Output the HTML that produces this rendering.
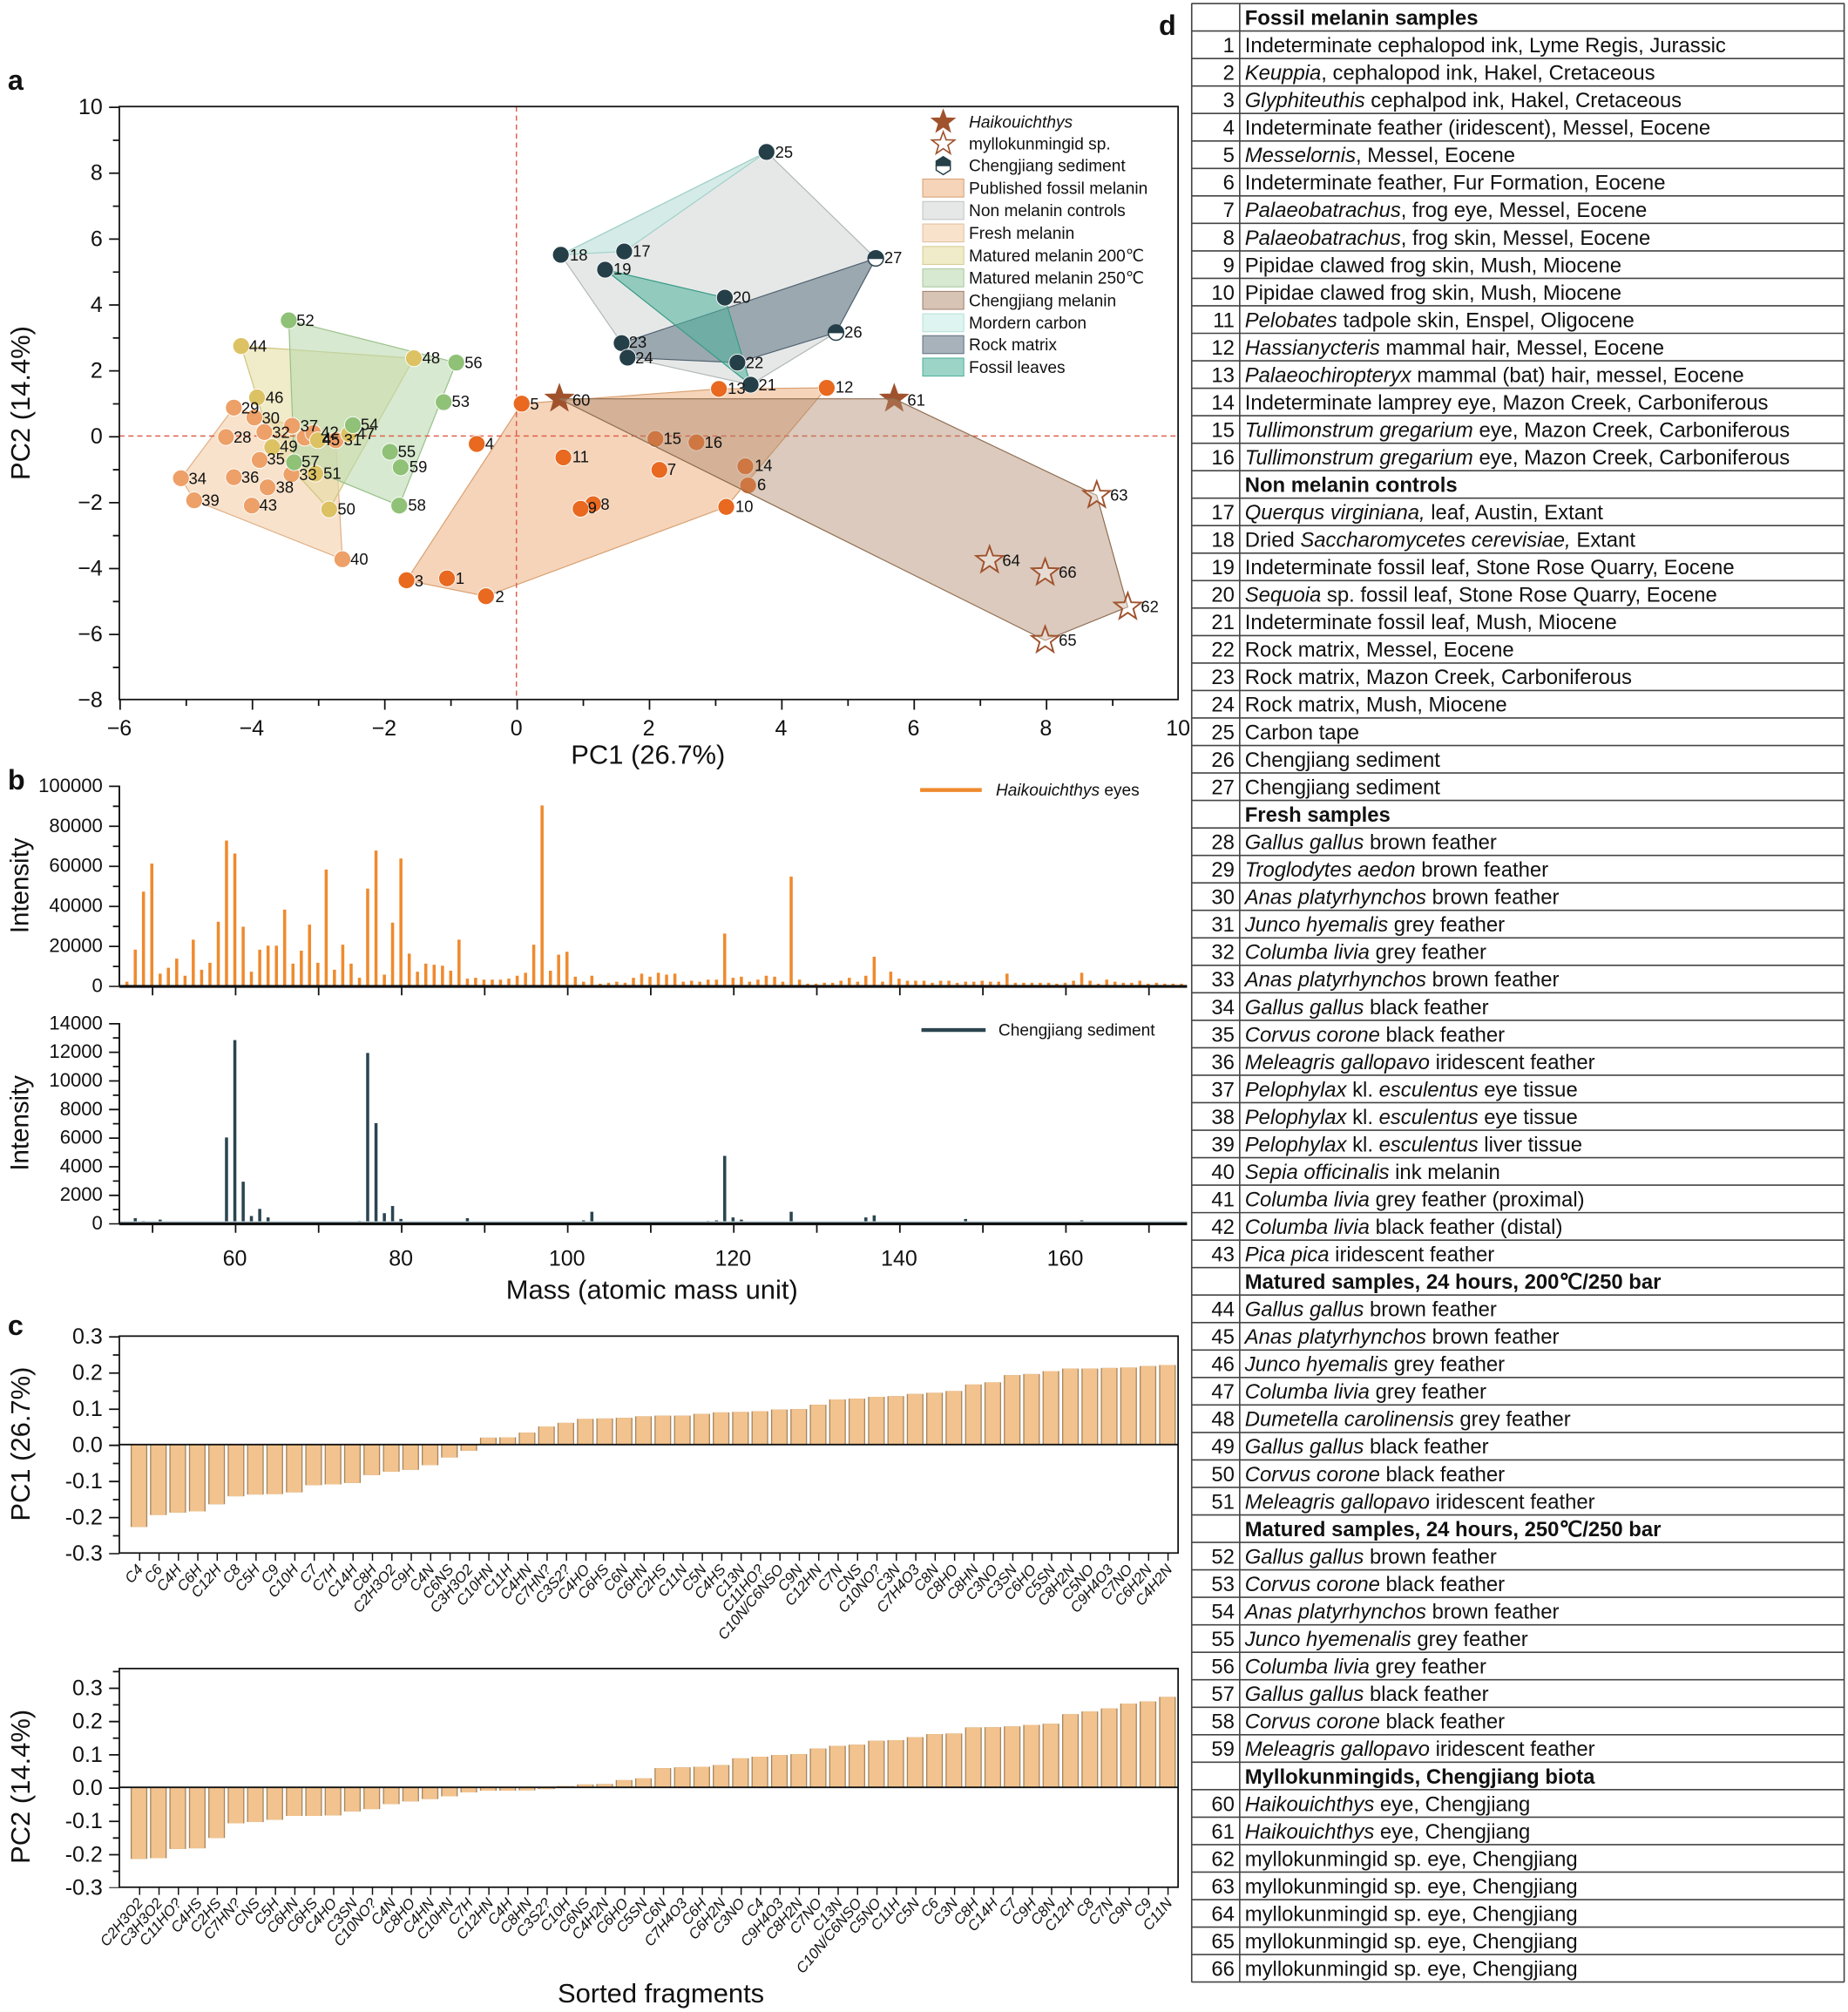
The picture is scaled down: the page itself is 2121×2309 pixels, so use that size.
<!DOCTYPE html>
<html><head><meta charset="utf-8"><style>
html,body{margin:0;padding:0;background:#fff}
svg{display:block}
text{font-family:"Liberation Sans",Arial,sans-serif;fill:#111}
.pl{font-size:12.5px}
.tk{font-size:17px}
.tb{font-size:15px}
.bl{font-size:11.5px;font-style:italic}
.lg{font-size:13px}
.tr{font-size:16.2px}
.ttl{font-size:21px}
</style></head><body>
<svg width="2121" height="2309" viewBox="0 0 1440 1567.6" xmlns="http://www.w3.org/2000/svg">
<defs>
<path id="star" d="M0,-11 L2.65,-3.64 10.46,-3.4 4.28,1.39 6.47,8.9 0,4.5 -6.47,8.9 -4.28,1.39 -10.46,-3.4 -2.65,-3.64Z"/>
<path id="bc1" fill="none" d="M108.3 1125.5v64.2M123.4 1125.5v54.9M138.5 1125.5v53M153.7 1125.5v52.1M168.8 1125.5v46.5M183.9 1125.5v40.3M199 1125.5v38.9M214.1 1125.5v38.6M229.3 1125.5v37.2M244.4 1125.5v31.6M259.5 1125.5v31M274.6 1125.5v29.9M289.7 1125.5v23.7M304.9 1125.5v21.1M320 1125.5v19.7M335.1 1125.5v16.1M350.2 1125.5v10.1M365.3 1125.5v4.8M380.5 1125.5v-5.4M395.6 1125.5v-5.6M410.7 1125.5v-9.3M425.8 1125.5v-14.1M440.9 1125.5v-16.9M456.1 1125.5v-20M471.2 1125.5v-20.3M486.3 1125.5v-20.8M501.4 1125.5v-22M516.5 1125.5v-22.5M531.7 1125.5v-22.5M546.8 1125.5v-23.9M561.9 1125.5v-25.1M577 1125.5v-25.4M592.1 1125.5v-25.9M607.3 1125.5v-27.3M622.4 1125.5v-27.6M637.5 1125.5v-31M652.6 1125.5v-35.2M667.7 1125.5v-35.8M682.9 1125.5v-37.2M698 1125.5v-37.7M713.1 1125.5v-39.4M728.2 1125.5v-40.3M743.3 1125.5v-41.7M758.5 1125.5v-46.8M773.6 1125.5v-48.5M788.7 1125.5v-54.1M803.8 1125.5v-54.9M818.9 1125.5v-57.2M834.1 1125.5v-59.2M849.2 1125.5v-59.2M864.3 1125.5v-59.7M879.4 1125.5v-60M894.5 1125.5v-61.1M909.7 1125.5v-62"/>
<path id="bc2" fill="none" d="M108.3 1392.6v55.7M123.4 1392.6v55.2M138.5 1392.6v48M153.7 1392.6v47.5M168.8 1392.6v39.4M183.9 1392.6v28M199 1392.6v27M214.1 1392.6v25.2M229.3 1392.6v22.3M244.4 1392.6v22.3M259.5 1392.6v21.8M274.6 1392.6v18.7M289.7 1392.6v16.9M304.9 1392.6v13M320 1392.6v10.9M335.1 1392.6v9.1M350.2 1392.6v7M365.3 1392.6v3.9M380.5 1392.6v2.6M395.6 1392.6v2.6M410.7 1392.6v2.3M425.8 1392.6v1.3M440.9 1392.6v-1M456.1 1392.6v-2.3M471.2 1392.6v-2.6M486.3 1392.6v-5.7M501.4 1392.6v-7M516.5 1392.6v-15M531.7 1392.6v-15.6M546.8 1392.6v-16.1M561.9 1392.6v-17.4M577 1392.6v-22.6M592.1 1392.6v-23.9M607.3 1392.6v-25.2M622.4 1392.6v-25.9M637.5 1392.6v-30.3M652.6 1392.6v-32.4M667.7 1392.6v-33.2M682.9 1392.6v-36.3M698 1392.6v-36.8M713.1 1392.6v-39.2M728.2 1392.6v-41.5M743.3 1392.6v-42M758.5 1392.6v-46.7M773.6 1392.6v-46.9M788.7 1392.6v-47.5M803.8 1392.6v-48.7M818.9 1392.6v-49.5M834.1 1392.6v-57M849.2 1392.6v-59.1M864.3 1392.6v-61.5M879.4 1392.6v-65.3M894.5 1392.6v-66.9M909.7 1392.6v-70.5"/>
</defs>
<rect width="1440" height="1567.6" fill="#fff"/>

<!-- ============ PANEL A ============ -->
<text x="6" y="70" font-size="22" font-weight="bold">a</text>
<g stroke-width="0.8">
<polygon points="316.8,452.1 406.5,314.5 560.2,303 644.2,302.2 565.9,394.9 378.7,464.5" fill="#eeb88c" fill-opacity="0.6" stroke="#d8a070"/>
<polygon points="437,198.5 597.3,118.4 682.4,201.3 651.4,259.1 584.9,299.7 489,278.6 484.4,267.3" fill="#d5d9d9" fill-opacity="0.6" stroke="#b0b6b6"/>
<polygon points="437,198.5 597.3,118.4 486.4,195.9" fill="#c8ece6" fill-opacity="0.6" stroke="#a0d0c8"/>
<polygon points="484.4,267.3 682.4,201.3 651.4,259.1 574.6,282.5 489,278.6" fill="#5f7382" fill-opacity="0.55" stroke="#4f6270"/>
<polygon points="471.5,210.1 564.8,231.9 584.9,299.7" fill="#4db09a" fill-opacity="0.55" stroke="#3a9a85"/>
<polygon points="182.2,317.6 227.6,331.7 261.6,343 266.8,435.7 151.3,389.8 141,372.6" fill="#f3cfa8" fill-opacity="0.6" stroke="#e0b088"/>
<polygon points="187.9,269.6 322.5,279.1 256.5,396.9 212.1,348.4 200.3,309.7" fill="#e6dea4" fill-opacity="0.6" stroke="#cfc47e"/>
<polygon points="225,249.6 355.5,282.5 311.1,393.9 229.2,360.2" fill="#bcdab0" fill-opacity="0.6" stroke="#98c088"/>
</g>
<line x1="402.4" y1="83" x2="402.4" y2="545" stroke="#e0604c" stroke-width="1" stroke-dasharray="4 3"/>
<line x1="93" y1="339.7" x2="918" y2="339.7" stroke="#e0604c" stroke-width="1" stroke-dasharray="4 3"/>

<g fill="#e8691f" stroke="#fff" stroke-width="0.6">
<circle cx="348.3" cy="450.6" r="6.5"/><circle cx="378.7" cy="464.5" r="6.5"/><circle cx="316.8" cy="452.1" r="6.5"/><circle cx="371.5" cy="345.9" r="6.5"/><circle cx="406.5" cy="314.5" r="6.5"/><circle cx="582.9" cy="378.2" r="6.5"/><circle cx="513.8" cy="366.1" r="6.5"/><circle cx="462.2" cy="392.8" r="6.5"/><circle cx="452.4" cy="396.4" r="6.5"/><circle cx="565.9" cy="394.9" r="6.5"/><circle cx="439" cy="356.4" r="6.5"/><circle cx="644.2" cy="302.2" r="6.5"/><circle cx="560.2" cy="303" r="6.5"/><circle cx="580.8" cy="363.3" r="6.5"/><circle cx="510.7" cy="342" r="6.5"/><circle cx="542.7" cy="344.6" r="6.5"/>
</g>
<g fill="#eda068" stroke="#fff" stroke-width="0.6">
<circle cx="176.1" cy="340.5" r="6.5"/><circle cx="182.2" cy="317.6" r="6.5"/><circle cx="198.2" cy="325.3" r="6.5"/><circle cx="261.6" cy="343" r="6.5"/><circle cx="206" cy="336.6" r="6.5"/><circle cx="227.1" cy="369.5" r="6.5"/><circle cx="141" cy="372.6" r="6.5"/><circle cx="202.3" cy="358.4" r="6.5"/><circle cx="182.2" cy="371.8" r="6.5"/><circle cx="227.6" cy="331.7" r="6.5"/><circle cx="208.5" cy="379.7" r="6.5"/><circle cx="151.3" cy="389.8" r="6.5"/><circle cx="266.8" cy="435.7" r="6.5"/><circle cx="237.4" cy="341" r="6.5"/><circle cx="244.1" cy="337.4" r="6.5"/><circle cx="196.2" cy="393.9" r="6.5"/>
</g>
<g fill="#dcc263" stroke="#fff" stroke-width="0.6">
<circle cx="187.9" cy="269.6" r="6.5"/><circle cx="247.7" cy="343" r="6.5"/><circle cx="200.3" cy="309.7" r="6.5"/><circle cx="271.9" cy="338.2" r="6.5"/><circle cx="322.5" cy="279.1" r="6.5"/><circle cx="212.1" cy="348.4" r="6.5"/><circle cx="256.5" cy="396.9" r="6.5"/><circle cx="245.7" cy="369" r="6.5"/>
</g>
<g fill="#8fc177" stroke="#fff" stroke-width="0.6">
<circle cx="225" cy="249.6" r="6.5"/><circle cx="345.7" cy="313.3" r="6.5"/><circle cx="275" cy="331.2" r="6.5"/><circle cx="303.9" cy="352" r="6.5"/><circle cx="355.5" cy="282.5" r="6.5"/><circle cx="229.2" cy="360.2" r="6.5"/><circle cx="311.1" cy="393.9" r="6.5"/><circle cx="312.2" cy="364.1" r="6.5"/>
</g>
<g fill="#253f48" stroke="#fff" stroke-width="0.6">
<circle cx="486.4" cy="195.9" r="6.5"/><circle cx="437" cy="198.5" r="6.5"/><circle cx="471.5" cy="210.1" r="6.5"/><circle cx="564.8" cy="231.9" r="6.5"/><circle cx="584.9" cy="299.7" r="6.5"/><circle cx="574.6" cy="282.5" r="6.5"/><circle cx="484.4" cy="267.3" r="6.5"/><circle cx="489" cy="278.6" r="6.5"/><circle cx="597.3" cy="118.4" r="6.5"/>
</g>
<g stroke="#253f48" stroke-width="1">
<path d="M645.4,259.1 a6,6 0 0 1 12,0Z" fill="#253f48"/><path d="M645.4,259.1 a6,6 0 0 0 12,0Z" fill="#fff"/>
<path d="M676.4,201.3 a6,6 0 0 1 12,0Z" fill="#253f48"/><path d="M676.4,201.3 a6,6 0 0 0 12,0Z" fill="#fff"/>
</g>
<use href="#star" x="435.9" y="310.7" fill="#a0522d" stroke="#a0522d"/>
<use href="#star" x="696.8" y="310.7" fill="#a0522d" stroke="#a0522d"/>
<polygon points="435.9,310.7 696.8,310.7 854.6,385.9 878.8,472.9 814.4,498.9" fill="#b08a6c" fill-opacity="0.45" stroke="#8f6c50" stroke-width="0.8"/>
<g fill="#fff" fill-opacity="0.35" stroke="#a0522d" stroke-width="1.3">
<use href="#star" x="878.8" y="472.9"/><use href="#star" x="854.6" y="385.9"/><use href="#star" x="771.1" y="436.5"/><use href="#star" x="814.4" y="498.9"/><use href="#star" x="814.4" y="446.2"/>
</g>
<g class="pl">
<text x="355" y="455">1</text><text x="386" y="469">2</text><text x="323" y="457">3</text><text x="378" y="350">4</text><text x="413" y="319">5</text><text x="590" y="382">6</text><text x="520" y="370">7</text><text x="468" y="397">8</text><text x="458" y="400">9</text><text x="573" y="399">10</text><text x="446" y="360">11</text><text x="651" y="306">12</text><text x="567" y="307">13</text><text x="588" y="367">14</text><text x="517" y="346">15</text><text x="549" y="349">16</text>
<text x="493" y="200">17</text><text x="444" y="203">18</text><text x="478" y="214">19</text><text x="571" y="236">20</text><text x="591" y="304">21</text><text x="581" y="287">22</text><text x="490" y="271">23</text><text x="495" y="283">24</text><text x="604" y="123">25</text><text x="658" y="263">26</text><text x="689" y="205">27</text>
<text x="182" y="345">28</text><text x="188" y="322">29</text><text x="204" y="330">30</text><text x="268" y="347">31</text><text x="212" y="341">32</text><text x="233" y="374">33</text><text x="147" y="377">34</text><text x="208" y="362">35</text><text x="188" y="376">36</text><text x="234" y="336">37</text><text x="215" y="384">38</text><text x="157" y="394">39</text><text x="273" y="440">40</text><text x="251" y="346">4</text><text x="250" y="341">42</text><text x="202" y="398">43</text>
<text x="194" y="274">44</text><text x="251" y="347">45</text><text x="207" y="314">46</text><text x="278" y="342">47</text><text x="329" y="283">48</text><text x="218" y="352">49</text><text x="263" y="401">50</text><text x="252" y="373">51</text>
<text x="231" y="254">52</text><text x="352" y="317">53</text><text x="281" y="335">54</text><text x="310" y="356">55</text><text x="362" y="287">56</text><text x="235" y="364">57</text><text x="318" y="398">58</text><text x="319" y="368">59</text>
<text x="446" y="316">60</text><text x="707" y="316">61</text><text x="889" y="477">62</text><text x="865" y="390">63</text><text x="781" y="441">64</text><text x="825" y="503">65</text><text x="825" y="450">66</text>
</g>
<rect x="93" y="83" width="825" height="462" fill="none" stroke="#111" stroke-width="1.2"/>
<line x1="93" y1="549" x2="918" y2="549" stroke="#111" stroke-width="8" stroke-dasharray="1.2 101.93"/>
<line x1="144.56" y1="547.5" x2="918" y2="547.5" stroke="#111" stroke-width="5" stroke-dasharray="1.2 101.93"/>
<line x1="89" y1="83" x2="89" y2="545" stroke="#111" stroke-width="8" stroke-dasharray="1.2 50.14"/>
<line x1="90.5" y1="108.67" x2="90.5" y2="545" stroke="#111" stroke-width="5" stroke-dasharray="1.2 50.14"/>
<g class="tk" text-anchor="middle">
<text x="93" y="573">−6</text><text x="196.1" y="573">−4</text><text x="299.3" y="573">−2</text><text x="402.4" y="573">0</text><text x="505.5" y="573">2</text><text x="608.6" y="573">4</text><text x="711.8" y="573">6</text><text x="814.9" y="573">8</text><text x="918" y="573">10</text>
</g>
<g class="tk" text-anchor="end">
<text x="80" y="89">10</text><text x="80" y="140.3">8</text><text x="80" y="191.7">6</text><text x="80" y="243">4</text><text x="80" y="294.3">2</text><text x="80" y="345.7">0</text><text x="80" y="397">−2</text><text x="80" y="448.3">−4</text><text x="80" y="499.7">−6</text><text x="80" y="551">−8</text>
</g>
<text class="ttl" x="505" y="595" text-anchor="middle">PC1 (26.7%)</text>
<text class="ttl" x="0" y="0" text-anchor="middle" transform="translate(23,314) rotate(-90)">PC2 (14.4%)</text>

<use href="#star" x="735" y="95" fill="#a0522d" stroke="#a0522d" transform="translate(735,95) scale(0.85) translate(-735,-95)"/>
<use href="#star" x="735" y="112" fill="none" stroke="#a0522d" stroke-width="1.3" transform="translate(735,112) scale(0.85) translate(-735,-112)"/>
<path d="M729.5,129 l0,-3.5 5.5,-3.5 5.5,3.5 0,3.5Z" fill="#253f48" stroke="#253f48"/>
<path d="M729.5,129 l0,3.5 5.5,3.5 5.5,-3.5 0,-3.5Z" fill="#fff" stroke="#253f48"/>
<g stroke-width="0.7">
<rect x="719" y="139.5" width="32" height="14" fill="#eeb88c" fill-opacity="0.6" stroke="#d8a070"/>
<rect x="719" y="157" width="32" height="14" fill="#d5d9d9" fill-opacity="0.6" stroke="#c0c4c4"/>
<rect x="719" y="174.5" width="32" height="14" fill="#f3cfa8" fill-opacity="0.6" stroke="#e0c0a0"/>
<rect x="719" y="192" width="32" height="14" fill="#e6dea4" fill-opacity="0.6" stroke="#d5cc96"/>
<rect x="719" y="209.5" width="32" height="14" fill="#bcdab0" fill-opacity="0.6" stroke="#a8c8a0"/>
<rect x="719" y="227" width="32" height="14" fill="#b08a6c" fill-opacity="0.5" stroke="#a08070"/>
<rect x="719" y="244.5" width="32" height="14" fill="#c8ece6" fill-opacity="0.6" stroke="#b8e0d8"/>
<rect x="719" y="261.5" width="32" height="14" fill="#5f7382" fill-opacity="0.55" stroke="#5f7382"/>
<rect x="719" y="279" width="32" height="14" fill="#4db09a" fill-opacity="0.55" stroke="#4db09a"/>
</g>
<g class="lg">
<text x="755" y="99.5" font-style="italic">Haikouichthys</text>
<text x="755" y="116.5">myllokunmingid sp.</text>
<text x="755" y="133.5">Chengjiang sediment</text>
<text x="755" y="151">Published fossil melanin</text>
<text x="755" y="168.5">Non melanin controls</text>
<text x="755" y="186">Fresh melanin</text>
<text x="755" y="203.5">Matured melanin 200℃</text>
<text x="755" y="221">Matured melanin 250℃</text>
<text x="755" y="238.5">Chengjiang melanin</text>
<text x="755" y="256">Mordern carbon</text>
<text x="755" y="273">Rock matrix</text>
<text x="755" y="290.5">Fossil leaves</text>
</g>

<!-- ============ PANEL B ============ -->
<text x="6" y="615" font-size="22" font-weight="bold">b</text>
<path stroke="#ef8a2e" stroke-width="2.4" fill="none" d="M98.9 768v-3.1M105.4 768v-28.1M111.8 768v-73.3M118.3 768v-95.2M124.8 768v-9.4M131.2 768v-14M137.7 768v-21.1M144.2 768v-7.8M150.6 768v-35.9M157.1 768v-12.5M163.6 768v-17.9M170.1 768v-49.9M176.5 768v-113.1M183 768v-103M189.5 768v-46M195.9 768v-10.9M202.4 768v-28.1M208.9 768v-31.2M215.4 768v-31.2M221.8 768v-59.3M228.3 768v-17.2M234.8 768v-27.3M241.2 768v-47.6M247.7 768v-17.9M254.2 768v-90.5M260.6 768v-12.5M267.1 768v-32M273.6 768v-17.2M280.1 768v-6.2M286.5 768v-75.7M293 768v-105.3M299.5 768v-8.6M305.9 768v-49.1M312.4 768v-99.1M318.9 768v-25M325.3 768v-10.9M331.8 768v-17.2M338.3 768v-16.4M344.8 768v-15.6M351.2 768v-11.7M357.7 768v-35.9M364.2 768v-5.5M370.6 768v-6.2M377.1 768v-4.7M383.6 768v-4.7M390 768v-4.7M396.5 768v-5.5M403 768v-7.8M409.5 768v-10.1M415.9 768v-32M422.4 768v-140.4M428.9 768v-11.7M435.3 768v-24.2M441.8 768v-26.5M448.3 768v-7M454.7 768v-3.1M461.2 768v-7.8M467.7 768v-1.6M474.2 768v-2.3M480.6 768v-3.1M487.1 768v-2.3M493.6 768v-6.2M500 768v-9.4M506.5 768v-7M513 768v-10.1M519.4 768v-8.6M525.9 768v-9.4M532.4 768v-3.1M538.9 768v-3.9M545.3 768v-3.1M551.8 768v-4.7M558.3 768v-4.7M564.7 768v-40.6M571.2 768v-6.2M577.7 768v-7M584.1 768v-3.1M590.6 768v-4.7M597.1 768v-7.8M603.6 768v-7M610 768v-3.1M616.5 768v-85M623 768v-4.7M629.4 768v-1.6M635.9 768v-1.6M642.4 768v-2.3M648.8 768v-2.3M655.3 768v-3.9M661.8 768v-6.2M668.3 768v-3.1M674.7 768v-7.8M681.2 768v-22.6M687.7 768v-3.1M694.1 768v-10.9M700.6 768v-5.5M707.1 768v-3.9M713.5 768v-3.9M720 768v-3.9M726.5 768v-2.3M733 768v-3.9M739.4 768v-3.9M745.9 768v-2.3M752.4 768v-3.1M758.8 768v-3.1M765.3 768v-3.9M771.8 768v-3.1M778.2 768v-3.1M784.7 768v-9.4M791.2 768v-2.3M797.7 768v-2.3M804.1 768v-2.3M810.6 768v-2.3M817.1 768v-2.3M823.5 768v-1.6M830 768v-2.3M836.5 768v-3.9M842.9 768v-10.1M849.4 768v-3.9M855.9 768v-1.6M862.4 768v-4.7M868.8 768v-3.1M875.3 768v-2.3M881.8 768v-2.3M888.2 768v-3.9M894.7 768v-1.6M901.2 768v-2.3M907.6 768v-1.6M914.1 768v-1.6M920.6 768v-1.6"/>
<path stroke="#2b4550" stroke-width="2.4" fill="none" d="M105.4 953v-3.9M111.8 953v-1.7M124.8 953v-2.8M137.7 953v-1.1M176.5 953v-66.8M183 953v-142.6M189.5 953v-32.3M195.9 953v-5.6M202.4 953v-11.1M208.9 953v-4.5M260.6 953v-1.1M280.1 953v-1.7M286.5 953v-132.6M293 953v-78M299.5 953v-7.8M305.9 953v-13.4M312.4 953v-3.3M364.2 953v-3.9M415.9 953v-1.1M441.8 953v-1.1M454.7 953v-2.2M461.2 953v-8.9M467.7 953v-1.1M545.3 953v-1.1M551.8 953v-1.7M558.3 953v-2.2M564.7 953v-52.4M571.2 953v-4.5M577.7 953v-2.8M616.5 953v-8.9M674.7 953v-4.5M681.2 953v-6.1M687.7 953v-1.1M752.4 953v-3.3M836.5 953v-1.1M842.9 953v-2.2M849.4 953v-1.1"/>
<line x1="93" y1="952" x2="925" y2="952" stroke="#b0c4cc" stroke-width="1"/>
<g stroke="#111">
<line x1="93" y1="612" x2="93" y2="768.8" stroke-width="1.3"/>
<line x1="93" y1="768.5" x2="925" y2="768.5" stroke-width="2.2"/>
<line x1="93" y1="797" x2="93" y2="953.8" stroke-width="1.3"/>
<line x1="93" y1="953.5" x2="925" y2="953.5" stroke-width="2.2"/>
<line x1="118.3" y1="772" x2="925" y2="772" stroke-width="7" stroke-dasharray="1.2 63.5"/>
<line x1="118.3" y1="957" x2="925" y2="957" stroke-width="7" stroke-dasharray="1.2 63.5"/>
<line x1="89" y1="612" x2="89" y2="769" stroke-width="8" stroke-dasharray="1.2 30" />
<line x1="90.5" y1="627.6" x2="90.5" y2="769" stroke-width="5" stroke-dasharray="1.2 30"/>
<line x1="89" y1="797" x2="89" y2="954" stroke-width="8" stroke-dasharray="1.2 21.09"/>
<line x1="90.5" y1="808.1" x2="90.5" y2="954" stroke-width="5" stroke-dasharray="1.2 21.09"/>
</g>
<g class="tb" text-anchor="end">
<text x="80" y="617">100000</text><text x="80" y="648.2">80000</text><text x="80" y="679.4">60000</text><text x="80" y="710.6">40000</text><text x="80" y="741.8">20000</text><text x="80" y="773">0</text>
<text x="80" y="802">14000</text><text x="80" y="824.3">12000</text><text x="80" y="846.6">10000</text><text x="80" y="868.9">8000</text><text x="80" y="891.1">6000</text><text x="80" y="913.4">4000</text><text x="80" y="935.7">2000</text><text x="80" y="958">0</text>
</g>
<g class="tk" text-anchor="middle">
<text x="183" y="986">60</text><text x="312.4" y="986">80</text><text x="441.8" y="986">100</text><text x="571.2" y="986">120</text><text x="700.6" y="986">140</text><text x="830" y="986">160</text>
</g>
<text class="ttl" x="508" y="1012" text-anchor="middle">Mass (atomic mass unit)</text>
<text x="0" y="0" font-size="20" text-anchor="middle" transform="translate(22,690) rotate(-90)">Intensity</text>
<text x="0" y="0" font-size="20" text-anchor="middle" transform="translate(22,875) rotate(-90)">Intensity</text>
<line x1="717" y1="615.5" x2="765" y2="615.5" stroke="#ef8a2e" stroke-width="3"/>
<text class="lg" x="776" y="620"><tspan font-style="italic">Haikouichthys</tspan> eyes</text>
<line x1="718" y1="802.5" x2="768" y2="802.5" stroke="#2b4550" stroke-width="3"/>
<text class="lg" x="778" y="807">Chengjiang sediment</text>

<!-- ============ PANEL C ============ -->
<text x="6" y="1040" font-size="22" font-weight="bold">c</text>
<use href="#bc1" stroke="#a8865e" stroke-width="13"/>
<use href="#bc1" stroke="#f2c38e" stroke-width="11.2"/>
<use href="#bc2" stroke="#a8865e" stroke-width="13"/>
<use href="#bc2" stroke="#f2c38e" stroke-width="11.2"/>
<g stroke="#111">
<rect x="93" y="1041" width="825" height="169" fill="none" stroke-width="1.2"/>
<line x1="93" y1="1125.5" x2="918" y2="1125.5" stroke-width="1.3"/>
<rect x="93" y="1300" width="825" height="170.4" fill="none" stroke-width="1.2"/>
<line x1="93" y1="1392.6" x2="918" y2="1392.6" stroke-width="1.3"/>
<line x1="108.3" y1="1213" x2="918" y2="1213" stroke-width="6" stroke-dasharray="1 14.12"/>
<line x1="108.3" y1="1473.4" x2="918" y2="1473.4" stroke-width="6" stroke-dasharray="1 14.12"/>
<line x1="89" y1="1041" x2="89" y2="1211" stroke-width="8" stroke-dasharray="1.2 26.97"/>
<line x1="90.5" y1="1055.1" x2="90.5" y2="1211" stroke-width="5" stroke-dasharray="1.2 26.97"/>
<line x1="89" y1="1314.8" x2="89" y2="1471" stroke-width="8" stroke-dasharray="1.2 24.73"/>
<line x1="90.5" y1="1301.8" x2="90.5" y2="1471" stroke-width="5" stroke-dasharray="1.2 24.73"/>
</g>
<g class="tk" text-anchor="end">
<text x="80" y="1047">0.3</text><text x="80" y="1075.2">0.2</text><text x="80" y="1103.3">0.1</text><text x="80" y="1131.5">0.0</text><text x="80" y="1159.7">-0.1</text><text x="80" y="1187.8">-0.2</text><text x="80" y="1216">-0.3</text>
<text x="80" y="1320.8">0.3</text><text x="80" y="1346.7">0.2</text><text x="80" y="1372.7">0.1</text><text x="80" y="1398.6">0.0</text><text x="80" y="1424.5">-0.1</text><text x="80" y="1450.5">-0.2</text><text x="80" y="1476.4">-0.3</text>
</g>
<text class="ttl" x="0" y="0" text-anchor="middle" transform="translate(23,1125) rotate(-90)">PC1 (26.7%)</text>
<text class="ttl" x="0" y="0" text-anchor="middle" transform="translate(23,1392) rotate(-90)">PC2 (14.4%)</text>
<text class="ttl" x="515" y="1560" text-anchor="middle">Sorted fragments</text>
<g class="bl" text-anchor="end">
<text transform="translate(112,1223) rotate(-50)">C4</text>
<text transform="translate(127,1223) rotate(-50)">C6</text>
<text transform="translate(142,1223) rotate(-50)">C4H</text>
<text transform="translate(158,1223) rotate(-50)">C6H</text>
<text transform="translate(173,1223) rotate(-50)">C12H</text>
<text transform="translate(188,1223) rotate(-50)">C8</text>
<text transform="translate(203,1223) rotate(-50)">C5H</text>
<text transform="translate(218,1223) rotate(-50)">C9</text>
<text transform="translate(233,1223) rotate(-50)">C10H</text>
<text transform="translate(248,1223) rotate(-50)">C7</text>
<text transform="translate(263,1223) rotate(-50)">C7H</text>
<text transform="translate(279,1223) rotate(-50)">C14H</text>
<text transform="translate(294,1223) rotate(-50)">C8H</text>
<text transform="translate(309,1223) rotate(-50)">C2H3O2</text>
<text transform="translate(324,1223) rotate(-50)">C9H</text>
<text transform="translate(339,1223) rotate(-50)">C4N</text>
<text transform="translate(354,1223) rotate(-50)">C6NS</text>
<text transform="translate(369,1223) rotate(-50)">C3H3O2</text>
<text transform="translate(385,1223) rotate(-50)">C10HN</text>
<text transform="translate(400,1223) rotate(-50)">C11H</text>
<text transform="translate(415,1223) rotate(-50)">C4HN</text>
<text transform="translate(430,1223) rotate(-50)">C7HN?</text>
<text transform="translate(445,1223) rotate(-50)">C3S2?</text>
<text transform="translate(460,1223) rotate(-50)">C4HO</text>
<text transform="translate(475,1223) rotate(-50)">C6HS</text>
<text transform="translate(490,1223) rotate(-50)">C6N</text>
<text transform="translate(505,1223) rotate(-50)">C6HN</text>
<text transform="translate(520,1223) rotate(-50)">C2HS</text>
<text transform="translate(536,1223) rotate(-50)">C11N</text>
<text transform="translate(551,1223) rotate(-50)">C5N</text>
<text transform="translate(566,1223) rotate(-50)">C4HS</text>
<text transform="translate(581,1223) rotate(-50)">C13N</text>
<text transform="translate(596,1223) rotate(-50)">C11HO?</text>
<text transform="translate(611,1223) rotate(-50)">C10N/C6NSO</text>
<text transform="translate(626,1223) rotate(-50)">C9N</text>
<text transform="translate(641,1223) rotate(-50)">C12HN</text>
<text transform="translate(657,1223) rotate(-50)">C7N</text>
<text transform="translate(672,1223) rotate(-50)">CNS</text>
<text transform="translate(687,1223) rotate(-50)">C10NO?</text>
<text transform="translate(702,1223) rotate(-50)">C3N</text>
<text transform="translate(717,1223) rotate(-50)">C7H4O3</text>
<text transform="translate(732,1223) rotate(-50)">C8N</text>
<text transform="translate(747,1223) rotate(-50)">C8HO</text>
<text transform="translate(763,1223) rotate(-50)">C8HN</text>
<text transform="translate(778,1223) rotate(-50)">C3NO</text>
<text transform="translate(793,1223) rotate(-50)">C3SN</text>
<text transform="translate(808,1223) rotate(-50)">C6HO</text>
<text transform="translate(823,1223) rotate(-50)">C5SN</text>
<text transform="translate(838,1223) rotate(-50)">C8H2N</text>
<text transform="translate(853,1223) rotate(-50)">C5NO</text>
<text transform="translate(868,1223) rotate(-50)">C9H4O3</text>
<text transform="translate(883,1223) rotate(-50)">C7NO</text>
<text transform="translate(898,1223) rotate(-50)">C6H2N</text>
<text transform="translate(914,1223) rotate(-50)">C4H2N</text>
</g>
<g class="bl" text-anchor="end">
<text transform="translate(112,1483) rotate(-50)">C2H3O2</text>
<text transform="translate(127,1483) rotate(-50)">C3H3O2</text>
<text transform="translate(142,1483) rotate(-50)">C11HO?</text>
<text transform="translate(158,1483) rotate(-50)">C4HS</text>
<text transform="translate(173,1483) rotate(-50)">C2HS</text>
<text transform="translate(188,1483) rotate(-50)">C7HN?</text>
<text transform="translate(203,1483) rotate(-50)">CNS</text>
<text transform="translate(218,1483) rotate(-50)">C5H</text>
<text transform="translate(233,1483) rotate(-50)">C6HN</text>
<text transform="translate(248,1483) rotate(-50)">C6HS</text>
<text transform="translate(263,1483) rotate(-50)">C4HO</text>
<text transform="translate(279,1483) rotate(-50)">C3SN</text>
<text transform="translate(294,1483) rotate(-50)">C10NO?</text>
<text transform="translate(309,1483) rotate(-50)">C4N</text>
<text transform="translate(324,1483) rotate(-50)">C8HO</text>
<text transform="translate(339,1483) rotate(-50)">C4HN</text>
<text transform="translate(354,1483) rotate(-50)">C10HN</text>
<text transform="translate(369,1483) rotate(-50)">C7H</text>
<text transform="translate(385,1483) rotate(-50)">C12HN</text>
<text transform="translate(400,1483) rotate(-50)">C4H</text>
<text transform="translate(415,1483) rotate(-50)">C8HN</text>
<text transform="translate(430,1483) rotate(-50)">C3S2?</text>
<text transform="translate(445,1483) rotate(-50)">C10H</text>
<text transform="translate(460,1483) rotate(-50)">C6NS</text>
<text transform="translate(475,1483) rotate(-50)">C4H2N</text>
<text transform="translate(490,1483) rotate(-50)">C6HO</text>
<text transform="translate(505,1483) rotate(-50)">C5SN</text>
<text transform="translate(520,1483) rotate(-50)">C6N</text>
<text transform="translate(536,1483) rotate(-50)">C7H4O3</text>
<text transform="translate(551,1483) rotate(-50)">C6H</text>
<text transform="translate(566,1483) rotate(-50)">C6H2N</text>
<text transform="translate(581,1483) rotate(-50)">C3NO</text>
<text transform="translate(596,1483) rotate(-50)">C4</text>
<text transform="translate(611,1483) rotate(-50)">C9H4O3</text>
<text transform="translate(626,1483) rotate(-50)">C8H2N</text>
<text transform="translate(641,1483) rotate(-50)">C7NO</text>
<text transform="translate(657,1483) rotate(-50)">C13N</text>
<text transform="translate(672,1483) rotate(-50)">C10N/C6NSO</text>
<text transform="translate(687,1483) rotate(-50)">C5NO</text>
<text transform="translate(702,1483) rotate(-50)">C11H</text>
<text transform="translate(717,1483) rotate(-50)">C5N</text>
<text transform="translate(732,1483) rotate(-50)">C6</text>
<text transform="translate(747,1483) rotate(-50)">C3N</text>
<text transform="translate(763,1483) rotate(-50)">C8H</text>
<text transform="translate(778,1483) rotate(-50)">C14H</text>
<text transform="translate(793,1483) rotate(-50)">C7</text>
<text transform="translate(808,1483) rotate(-50)">C9H</text>
<text transform="translate(823,1483) rotate(-50)">C8N</text>
<text transform="translate(838,1483) rotate(-50)">C12H</text>
<text transform="translate(853,1483) rotate(-50)">C8</text>
<text transform="translate(868,1483) rotate(-50)">C7N</text>
<text transform="translate(883,1483) rotate(-50)">C9N</text>
<text transform="translate(898,1483) rotate(-50)">C9</text>
<text transform="translate(914,1483) rotate(-50)">C11N</text>
</g>

<!-- ============ PANEL D (table) ============ -->
<text x="903" y="27" font-size="22" font-weight="bold">d</text>
<line x1="1182.8" y1="2.2" x2="1182.8" y2="1545" stroke="#444" stroke-width="508.8" stroke-dasharray="1.1 20.31"/>
<g stroke="#444" stroke-width="1.1">
<line x1="928.6" y1="2.7" x2="928.6" y2="1544.3"/>
<line x1="966" y1="2.7" x2="966" y2="1544.3"/>
<line x1="1437" y1="2.7" x2="1437" y2="1544.3"/>
</g>
<g class="tr">
<g font-weight="bold">
<text x="970" y="19.3">Fossil melanin samples</text>
<text x="970" y="383.3">Non melanin controls</text>
<text x="970" y="640.2">Fresh samples</text>
<text x="970" y="1004.2">Matured samples, 24 hours, 200℃/250 bar</text>
<text x="970" y="1196.9">Matured samples, 24 hours, 250℃/250 bar</text>
<text x="970" y="1389.6">Myllokunmingids, Chengjiang biota</text>
</g>
<g text-anchor="end">
<text x="962" y="40.7">1</text><text x="962" y="62.1">2</text><text x="962" y="83.5">3</text><text x="962" y="104.9">4</text><text x="962" y="126.3">5</text><text x="962" y="147.8">6</text><text x="962" y="169.2">7</text><text x="962" y="190.6">8</text><text x="962" y="212">9</text><text x="962" y="233.4">10</text><text x="962" y="254.8">11</text><text x="962" y="276.2">12</text><text x="962" y="297.6">13</text><text x="962" y="319">14</text><text x="962" y="340.4">15</text><text x="962" y="361.9">16</text>
<text x="962" y="404.7">17</text><text x="962" y="426.1">18</text><text x="962" y="447.5">19</text><text x="962" y="468.9">20</text><text x="962" y="490.3">21</text><text x="962" y="511.7">22</text><text x="962" y="533.1">23</text><text x="962" y="554.5">24</text><text x="962" y="576">25</text><text x="962" y="597.4">26</text><text x="962" y="618.8">27</text>
<text x="962" y="661.6">28</text><text x="962" y="683">29</text><text x="962" y="704.4">30</text><text x="962" y="725.8">31</text><text x="962" y="747.2">32</text><text x="962" y="768.6">33</text><text x="962" y="790.1">34</text><text x="962" y="811.5">35</text><text x="962" y="832.9">36</text><text x="962" y="854.3">37</text><text x="962" y="875.7">38</text><text x="962" y="897.1">39</text><text x="962" y="918.5">40</text><text x="962" y="939.9">41</text><text x="962" y="961.3">42</text><text x="962" y="982.8">43</text>
<text x="962" y="1025.6">44</text><text x="962" y="1047">45</text><text x="962" y="1068.4">46</text><text x="962" y="1089.8">47</text><text x="962" y="1111.2">48</text><text x="962" y="1132.6">49</text><text x="962" y="1154">50</text><text x="962" y="1175.4">51</text>
<text x="962" y="1218.3">52</text><text x="962" y="1239.7">53</text><text x="962" y="1261.1">54</text><text x="962" y="1282.5">55</text><text x="962" y="1303.9">56</text><text x="962" y="1325.3">57</text><text x="962" y="1346.7">58</text><text x="962" y="1368.1">59</text>
<text x="962" y="1411">60</text><text x="962" y="1432.4">61</text><text x="962" y="1453.8">62</text><text x="962" y="1475.2">63</text><text x="962" y="1496.6">64</text><text x="962" y="1518">65</text><text x="962" y="1539.4">66</text>
</g>
<text x="970" y="40.7">Indeterminate cephalopod ink, Lyme Regis, Jurassic</text>
<text x="970" y="62.1"><tspan font-style="italic">Keuppia</tspan>, cephalopod ink, Hakel, Cretaceous</text>
<text x="970" y="83.5"><tspan font-style="italic">Glyphiteuthis</tspan> cephalpod ink, Hakel, Cretaceous</text>
<text x="970" y="104.9">Indeterminate feather (iridescent), Messel, Eocene</text>
<text x="970" y="126.3"><tspan font-style="italic">Messelornis</tspan>, Messel, Eocene</text>
<text x="970" y="147.8">Indeterminate feather, Fur Formation, Eocene</text>
<text x="970" y="169.2"><tspan font-style="italic">Palaeobatrachus</tspan>, frog eye, Messel, Eocene</text>
<text x="970" y="190.6"><tspan font-style="italic">Palaeobatrachus</tspan>, frog skin, Messel, Eocene</text>
<text x="970" y="212">Pipidae clawed frog skin, Mush, Miocene</text>
<text x="970" y="233.4">Pipidae clawed frog skin, Mush, Miocene</text>
<text x="970" y="254.8"><tspan font-style="italic">Pelobates</tspan> tadpole skin, Enspel, Oligocene</text>
<text x="970" y="276.2"><tspan font-style="italic">Hassianycteris</tspan> mammal hair, Messel, Eocene</text>
<text x="970" y="297.6"><tspan font-style="italic">Palaeochiropteryx</tspan> mammal (bat) hair, messel, Eocene</text>
<text x="970" y="319">Indeterminate lamprey eye, Mazon Creek, Carboniferous</text>
<text x="970" y="340.4"><tspan font-style="italic">Tullimonstrum gregarium</tspan> eye, Mazon Creek, Carboniferous</text>
<text x="970" y="361.9"><tspan font-style="italic">Tullimonstrum gregarium</tspan> eye, Mazon Creek, Carboniferous</text>
<text x="970" y="404.7"><tspan font-style="italic">Querqus virginiana,</tspan> leaf, Austin, Extant</text>
<text x="970" y="426.1">Dried <tspan font-style="italic">Saccharomycetes cerevisiae,</tspan> Extant</text>
<text x="970" y="447.5">Indeterminate fossil leaf, Stone Rose Quarry, Eocene</text>
<text x="970" y="468.9"><tspan font-style="italic">Sequoia</tspan> sp. fossil leaf, Stone Rose Quarry, Eocene</text>
<text x="970" y="490.3">Indeterminate fossil leaf, Mush, Miocene</text>
<text x="970" y="511.7">Rock matrix, Messel, Eocene</text>
<text x="970" y="533.1">Rock matrix, Mazon Creek, Carboniferous</text>
<text x="970" y="554.5">Rock matrix, Mush, Miocene</text>
<text x="970" y="576">Carbon tape</text>
<text x="970" y="597.4">Chengjiang sediment</text>
<text x="970" y="618.8">Chengjiang sediment</text>
<text x="970" y="661.6"><tspan font-style="italic">Gallus gallus</tspan> brown feather</text>
<text x="970" y="683"><tspan font-style="italic">Troglodytes aedon</tspan> brown feather</text>
<text x="970" y="704.4"><tspan font-style="italic">Anas platyrhynchos</tspan> brown feather</text>
<text x="970" y="725.8"><tspan font-style="italic">Junco hyemalis</tspan> grey feather</text>
<text x="970" y="747.2"><tspan font-style="italic">Columba livia</tspan> grey feather</text>
<text x="970" y="768.6"><tspan font-style="italic">Anas platyrhynchos</tspan> brown feather</text>
<text x="970" y="790.1"><tspan font-style="italic">Gallus gallus</tspan> black feather</text>
<text x="970" y="811.5"><tspan font-style="italic">Corvus corone</tspan> black feather</text>
<text x="970" y="832.9"><tspan font-style="italic">Meleagris gallopavo</tspan> iridescent feather</text>
<text x="970" y="854.3"><tspan font-style="italic">Pelophylax</tspan> kl. <tspan font-style="italic">esculentus</tspan> eye tissue</text>
<text x="970" y="875.7"><tspan font-style="italic">Pelophylax</tspan> kl. <tspan font-style="italic">esculentus</tspan> eye tissue</text>
<text x="970" y="897.1"><tspan font-style="italic">Pelophylax</tspan> kl. <tspan font-style="italic">esculentus</tspan> liver tissue</text>
<text x="970" y="918.5"><tspan font-style="italic">Sepia officinalis</tspan> ink melanin</text>
<text x="970" y="939.9"><tspan font-style="italic">Columba livia</tspan> grey feather (proximal)</text>
<text x="970" y="961.3"><tspan font-style="italic">Columba livia</tspan> black feather (distal)</text>
<text x="970" y="982.8"><tspan font-style="italic">Pica pica</tspan> iridescent feather</text>
<text x="970" y="1025.6"><tspan font-style="italic">Gallus gallus</tspan> brown feather</text>
<text x="970" y="1047"><tspan font-style="italic">Anas platyrhynchos</tspan> brown feather</text>
<text x="970" y="1068.4"><tspan font-style="italic">Junco hyemalis</tspan> grey feather</text>
<text x="970" y="1089.8"><tspan font-style="italic">Columba livia</tspan> grey feather</text>
<text x="970" y="1111.2"><tspan font-style="italic">Dumetella carolinensis</tspan> grey feather</text>
<text x="970" y="1132.6"><tspan font-style="italic">Gallus gallus</tspan> black feather</text>
<text x="970" y="1154"><tspan font-style="italic">Corvus corone</tspan> black feather</text>
<text x="970" y="1175.4"><tspan font-style="italic">Meleagris gallopavo</tspan> iridescent feather</text>
<text x="970" y="1218.3"><tspan font-style="italic">Gallus gallus</tspan> brown feather</text>
<text x="970" y="1239.7"><tspan font-style="italic">Corvus corone</tspan> black feather</text>
<text x="970" y="1261.1"><tspan font-style="italic">Anas platyrhynchos</tspan> brown feather</text>
<text x="970" y="1282.5"><tspan font-style="italic">Junco hyemenalis</tspan> grey feather</text>
<text x="970" y="1303.9"><tspan font-style="italic">Columba livia</tspan> grey feather</text>
<text x="970" y="1325.3"><tspan font-style="italic">Gallus gallus</tspan> black feather</text>
<text x="970" y="1346.7"><tspan font-style="italic">Corvus corone</tspan> black feather</text>
<text x="970" y="1368.1"><tspan font-style="italic">Meleagris gallopavo</tspan> iridescent feather</text>
<text x="970" y="1411"><tspan font-style="italic">Haikouichthys</tspan> eye, Chengjiang</text>
<text x="970" y="1432.4"><tspan font-style="italic">Haikouichthys</tspan> eye, Chengjiang</text>
<text x="970" y="1453.8">myllokunmingid sp. eye, Chengjiang</text>
<text x="970" y="1475.2">myllokunmingid sp. eye, Chengjiang</text>
<text x="970" y="1496.6">myllokunmingid sp. eye, Chengjiang</text>
<text x="970" y="1518">myllokunmingid sp. eye, Chengjiang</text>
<text x="970" y="1539.4">myllokunmingid sp. eye, Chengjiang</text>
</g>
</svg>
</body></html>
